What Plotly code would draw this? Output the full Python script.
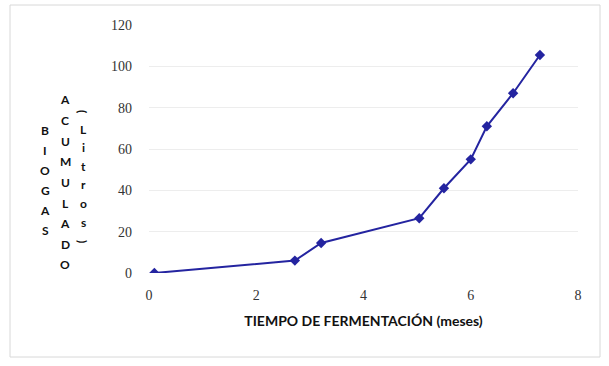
import plotly.graph_objects as go

# Cumulative biogas production over fermentation time
meses = [0.1, 2.72, 3.21, 5.04, 5.5, 6.0, 6.3, 6.79, 7.29]
biogas_litros = [0, 6, 14.5, 26.5, 41, 55, 71, 87, 105.5]

x_ticks = [0, 2, 4, 6, 8]
y_ticks = [0, 20, 40, 60, 80, 100, 120]

# plot-area geometry in pixels
W, H = 609, 366
L, R, T, B = 149, 31, 25, 93
PW, PH = W - L - R, H - T - B


def px_to_paper(px, py):
    return (px - L) / PW, (H - B - py) / PH


fig = go.Figure()
fig.add_trace(go.Scatter(
    x=meses, y=biogas_litros, mode="lines+markers",
    line=dict(color="#2424A0", width=2),
    marker=dict(symbol="diamond", size=8, color="#2424A0"),
    showlegend=False,
))

tick_font = dict(family="Liberation Serif", size=14, color="#333333")
fig.update_xaxes(
    range=[0, 8], tickvals=x_ticks, showgrid=False, zeroline=False,
    showline=False, ticks="", tickfont=tick_font, ticklabelstandoff=12,
    title=dict(text="<b>TIEMPO DE FERMENTACIÓN (meses)</b>",
               font=dict(family="Lato", size=14, color="#111111"), standoff=14),
)
fig.update_yaxes(
    range=[0, 120], tickvals=y_ticks, showgrid=True, gridcolor="#EDEDED",
    gridwidth=1, zeroline=False, showline=False, ticks="",
    tickfont=tick_font, ticklabelstandoff=16,
)

# Vertical stacked-letter axis title, three columns
label_font = dict(family="Lato", size=12, color="#111111")
columns = [
    ("BIOGAS", 45, 130, 20),
    ("ACUMULADO", 65, 100, 20.6),
    ("Litros", 83, 129, 18.6),
]
annotations = []
for word, px, py0, step in columns:
    for i, ch in enumerate(word):
        ax, ay = px_to_paper(px, py0 + i * step)
        annotations.append(dict(
            text=f"<b>{ch}</b>", x=ax, y=ay,
            xref="paper", yref="paper", showarrow=False,
            xanchor="center", yanchor="middle", font=label_font,
        ))
# rotated parentheses around "Litros"
for ch, py in [("(", 111), (")", 241)]:
    ax, ay = px_to_paper(83, py)
    annotations.append(dict(
        text=f"<b>{ch}</b>", x=ax, y=ay,
        xref="paper", yref="paper", showarrow=False, textangle=90,
        xanchor="center", yanchor="middle", font=label_font,
    ))

x0, y0 = px_to_paper(10, 357)
x1, y1 = px_to_paper(600, 5)
fig.update_layout(
    width=W, height=H,
    margin=dict(l=L, r=R, t=T, b=B),
    paper_bgcolor="white", plot_bgcolor="white",
    annotations=annotations,
    shapes=[dict(type="rect", xref="paper", yref="paper",
                 x0=x0, x1=x1, y0=y0, y1=y1,
                 line=dict(color="#D8D8D8", width=1))],
)

fig.write_html("out.html")
